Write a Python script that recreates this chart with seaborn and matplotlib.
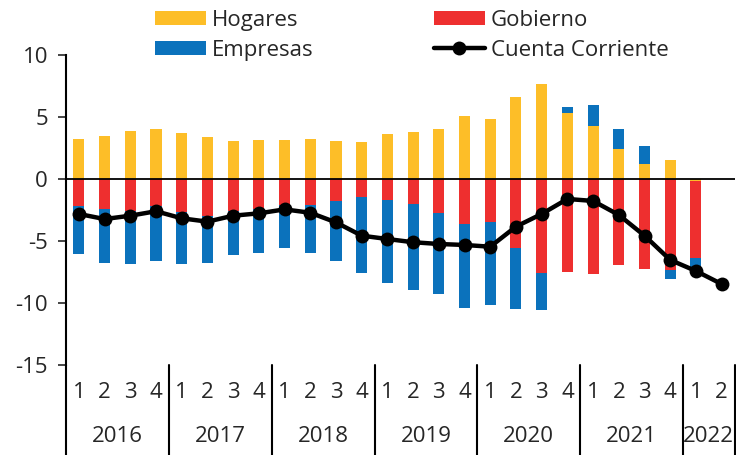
import numpy as np
import pandas as pd
import matplotlib
matplotlib.use("Agg")
import matplotlib.pyplot as plt
from matplotlib.lines import Line2D
import seaborn as sns

years = ["2016", "2017", "2018", "2019", "2020", "2021", "2022"]
quarters_per_year = [4, 4, 4, 4, 4, 4, 2]

hogares = [3.2, 3.5, 3.85, 4.0, 3.7, 3.4, 3.1, 3.15, 3.15, 3.2, 3.05, 3.0,
           3.6, 3.8, 4.05, 5.1, 4.8, 6.6, 7.65, 5.3, 4.3, 2.4, 1.2, 1.5, -0.15, np.nan]
gobierno = [-2.2, -2.45, -2.6, -2.2, -2.7, -3.0, -2.6, -2.4, -2.1, -2.1, -1.8, -1.45,
            -1.7, -2.05, -2.75, -3.65, -3.45, -5.55, -7.6, -7.5, -7.7, -6.95, -7.25, -7.3, -6.2, np.nan]
empresas = [-3.85, -4.3, -4.25, -4.45, -4.15, -3.8, -3.5, -3.55, -3.5, -3.85, -4.8, -6.15,
            -6.7, -6.9, -6.5, -6.75, -6.75, -4.95, -2.95, 0.5, 1.65, 1.6, 1.5, -0.8, -1.05, np.nan]
cuenta_corriente = [-2.82, -3.23, -2.96, -2.6, -3.17, -3.44, -2.96, -2.77, -2.45, -2.72, -3.5, -4.57,
                    -4.84, -5.1, -5.24, -5.32, -5.46, -3.84, -2.82, -1.61, -1.77, -2.9, -4.57, -6.53,
                    -7.42, -8.47]

colors = {"Hogares": "#FDBE28", "Gobierno": "#EE2F2F", "Empresas": "#0B72BC"}
FS = 16


def main():
    sns.set_style("white")
    plt.rcParams["font.family"] = ["Open Sans", "DejaVu Sans"]

    n = len(cuenta_corriente)
    x = np.arange(n)
    df = pd.DataFrame({"x": x, "Hogares": hogares, "Gobierno": gobierno,
                       "Empresas": empresas, "Cuenta Corriente": cuenta_corriente})

    fig = plt.figure(figsize=(7.36, 4.55), dpi=100)
    ax = fig.add_axes([66 / 736, 1 - 365 / 455, 1 - 66 / 736 - 0.002, 310 / 455])

    # stacked bars: positives and negatives stack separately
    pos_bottom = np.zeros(n)
    neg_bottom = np.zeros(n)
    handles = {}
    for name in ["Hogares", "Gobierno", "Empresas"]:
        v = np.nan_to_num(df[name].to_numpy())
        bottom = np.where(v >= 0, pos_bottom, neg_bottom)
        handles[name] = ax.bar(x, v, bottom=bottom, width=0.43, color=colors[name],
                               linewidth=0, label=name, zorder=2)
        pos_bottom = pos_bottom + np.where(v > 0, v, 0)
        neg_bottom = neg_bottom + np.where(v < 0, v, 0)

    ax.axhline(0, color="black", lw=1.3, zorder=3)

    sns.lineplot(data=df, x="x", y="Cuenta Corriente", ax=ax, color="black", lw=3.2,
                 marker="o", markersize=10, markeredgewidth=0, zorder=4, legend=False)

    ax.set_xlim(-0.5, n - 0.5)
    ax.set_ylim(-15, 10)
    ax.set_yticks([10, 5, 0, -5, -10, -15])
    ax.set_yticklabels(["10", "5", "0", "-5", "-10", "-15"], fontsize=FS)
    ax.tick_params(axis="y", direction="out", length=6, width=1.2, left=True, pad=7)
    ax.set_xticks([])
    ax.set_xlabel("")
    ax.set_ylabel("")
    for s in ["top", "right", "bottom"]:
        ax.spines[s].set_visible(False)
    ax.spines["left"].set_color("black")
    ax.spines["left"].set_linewidth(1.5)

    # two-level category axis
    trans = ax.get_xaxis_transform()
    i = 0
    ax.plot([-0.5, -0.5], [0, -0.29], transform=trans, color="black", lw=1.5, clip_on=False)
    for year, nq in zip(years, quarters_per_year):
        for q in range(nq):
            ax.text(i + q, -0.09, str(q + 1), transform=trans, ha="center", va="center", fontsize=FS)
        ax.text(i + (nq - 1) / 2, -0.232, year, transform=trans, ha="center", va="center", fontsize=FS)
        i += nq
        ax.plot([i - 0.5, i - 0.5], [0, -0.29], transform=trans, color="black", lw=1.5, clip_on=False)

    line_handle = Line2D([], [], color="black", lw=3.2, marker="o", markersize=10, markeredgewidth=0)
    leg_handles = [handles["Hogares"], handles["Empresas"], handles["Gobierno"], line_handle]
    leg_labels = ["Hogares", "Empresas", "Gobierno", "Cuenta Corriente"]
    fig.legend(leg_handles, leg_labels, ncol=2, loc="upper left", bbox_to_anchor=(155 / 736, 0.978),
               frameon=False, fontsize=FS, handlelength=2.3, handleheight=0.6, handletextpad=0.27,
               columnspacing=5.4, labelspacing=0.39, borderpad=0, borderaxespad=0)

    fig.savefig("out.png", dpi=100)
    plt.close(fig)


if __name__ == "__main__":
    main()
